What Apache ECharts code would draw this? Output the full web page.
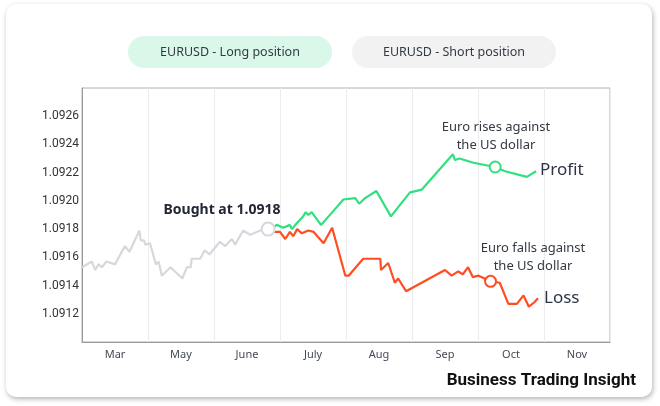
<!DOCTYPE html>
<html>
<head>
<meta charset="utf-8">
<script src="https://cdn.jsdelivr.net/npm/echarts@6/dist/echarts.min.js"></script>
<style>
  html, body { margin: 0; padding: 0; background: #ffffff; }
  #wrap { position: relative; width: 660px; height: 406px; overflow: hidden; }
  #card { position: absolute; left: 6px; top: 4px; width: 646px; height: 393px; background: #fff;
          border-radius: 10px; box-shadow: 1px 2px 5px rgba(0,0,0,0.3); }
  #chart { position: absolute; left: 0; top: 0; width: 660px; height: 406px; }
</style>
</head>
<body>
<div id="wrap">
  <div id="card"></div>
  <div id="chart"></div>
</div>
<script>
const months = ['Mar', 'May', 'June', 'July', 'Aug', 'Sep', 'Oct', 'Nov'];
const boughtAt = 1.0918;

const historyX = [0, 0.15, 0.2, 0.25, 0.3, 0.37, 0.5, 0.65, 0.72, 0.87, 0.89, 0.94, 0.96, 1.03, 1.12, 1.16, 1.21, 1.34, 1.52, 1.59, 1.65, 1.66, 1.79, 1.86, 1.93, 2.09, 2.17, 2.27, 2.32, 2.44, 2.55, 2.70, 2.82];
const historyY = [1.09153, 1.09157, 1.09151, 1.09155, 1.09153, 1.09157, 1.09155, 1.09168, 1.09164, 1.09179, 1.09172, 1.09172, 1.09169, 1.09170, 1.09155, 1.09157, 1.09147, 1.09153, 1.09145, 1.09153, 1.09153, 1.09159, 1.09159, 1.09165, 1.09162, 1.09171, 1.09168, 1.09173, 1.09169, 1.09179, 1.09176, 1.09179, 1.09180];

const longX = [2.82, 2.89, 2.95, 3.05, 3.15, 3.18, 3.25, 3.35, 3.39, 3.43, 3.48, 3.62, 3.68, 3.83, 3.96, 4.14, 4.20, 4.29, 4.46, 4.68, 4.97, 5.15, 5.62, 5.65, 5.72, 5.93, 6.26, 6.41, 6.74, 6.88];
const longY = [1.09180, 1.09181, 1.09183, 1.09181, 1.09183, 1.09180, 1.09184, 1.09189, 1.09192, 1.09190, 1.09192, 1.09183, 1.09186, 1.09194, 1.09201, 1.09202, 1.09198, 1.09202, 1.09207, 1.09189, 1.09206, 1.09208, 1.09233, 1.09229, 1.09230, 1.09227, 1.09224, 1.09221, 1.09217, 1.09221];
const longMarkerIndex = 26;

const shortX = [2.82, 2.89, 3.00, 3.08, 3.15, 3.20, 3.26, 3.33, 3.43, 3.51, 3.66, 3.79, 3.99, 4.04, 4.26, 4.52, 4.53, 4.64, 4.74, 4.79, 4.91, 5.50, 5.60, 5.70, 5.77, 5.85, 5.92, 6.01, 6.19, 6.33, 6.46, 6.59, 6.69, 6.77, 6.85, 6.91];
const shortY = [1.09180, 1.09178, 1.09178, 1.09173, 1.09178, 1.09175, 1.09180, 1.09177, 1.09179, 1.09178, 1.09170, 1.09181, 1.09147, 1.09147, 1.09159, 1.09159, 1.09151, 1.09156, 1.09142, 1.09145, 1.09136, 1.09151, 1.09147, 1.09150, 1.09148, 1.09153, 1.09146, 1.09147, 1.09143, 1.09142, 1.09127, 1.09127, 1.09133, 1.09125, 1.09128, 1.09131];
const shortMarkerIndex = 28;

const yMin = 1.0910, yMax = 1.0928, yStep = 0.0002;

const zip = (xs, ys) => xs.map((x, i) => [x, ys[i]]);
const GREY = '#d6d8dd', GREEN = '#2fe07e', RED = '#ff4d22';
const TXT = "'Noto Sans', sans-serif";

const chart = echarts.init(document.getElementById('chart'), null, { renderer: 'canvas' });

const markerSeries = (pt, color, size) => ({
  type: 'scatter', xAxisIndex: 1, z: 5, symbolSize: size, silent: true,
  data: [pt],
  itemStyle: { color: '#ffffff', opacity: 1, borderColor: color, borderWidth: 2 },
  emphasis: { disabled: true }
});

const option = {
  backgroundColor: 'transparent',
  animation: false,
  grid: { left: 82, right: 50, top: 88, bottom: 64, show: true, borderColor: '#b0b0b0', borderWidth: 1 },
  xAxis: [
    {
      type: 'category', data: months, boundaryGap: true,
      axisTick: { show: false },
      axisLine: { show: true, lineStyle: { color: '#9a9a9a' } },
      splitLine: { show: true, lineStyle: { color: '#ececec', width: 1 } },
      axisLabel: { color: '#444a55', fontSize: 11, fontFamily: TXT, margin: 7 }
    },
    { type: 'value', min: 0, max: 8, show: false }
  ],
  yAxis: {
    type: 'value', min: yMin, max: yMax, interval: yStep,
    axisLine: { show: true, lineStyle: { color: '#9a9a9a' } },
    axisTick: { show: false },
    splitLine: { show: false },
    axisLabel: {
      color: '#333', fontSize: 12, fontFamily: 'Roboto', margin: 3,
      showMinLabel: false, showMaxLabel: false,
      formatter: v => v.toFixed(4)
    }
  },
  series: [
    {
      type: 'line', xAxisIndex: 1, data: zip(historyX, historyY), symbol: 'none',
      lineStyle: { color: GREY, width: 2.2 }, z: 2,
      markLine: {
        silent: true, symbol: 'none', label: { show: false },
        lineStyle: { color: '#cfd1d6', type: [4, 4], width: 1 },
        data: [{ yAxis: boughtAt }]
      }
    },
    {
      type: 'line', xAxisIndex: 1, data: zip(longX, longY), symbol: 'none',
      lineStyle: { color: GREEN, width: 2.2 }, z: 3
    },
    {
      type: 'line', xAxisIndex: 1, data: zip(shortX, shortY), symbol: 'none',
      lineStyle: { color: RED, width: 2.2 }, z: 3
    },
    markerSeries([historyX[historyX.length - 1], historyY[historyY.length - 1]], GREY, 13),
    markerSeries([longX[longMarkerIndex], longY[longMarkerIndex]], GREEN, 11),
    markerSeries([shortX[shortMarkerIndex], shortY[shortMarkerIndex]], RED, 11)
  ],
  graphic: [
    { type: 'rect', shape: { x: 128, y: 36, width: 204, height: 32, r: 16 }, style: { fill: '#d9f8ea' } },
    { type: 'text', x: 230, y: 52, style: { text: 'EURUSD - Long position', fill: '#333a44', font: "12.5px 'Noto Sans'", textAlign: 'center', textVerticalAlign: 'middle' } },
    { type: 'rect', shape: { x: 352, y: 36, width: 204, height: 32, r: 16 }, style: { fill: '#f2f2f3' } },
    { type: 'text', x: 454, y: 52, style: { text: 'EURUSD - Short position', fill: '#333a44', font: "12.5px 'Noto Sans'", textAlign: 'center', textVerticalAlign: 'middle' } },

    { type: 'text', x: 222, y: 210, z: 10, style: { text: 'Bought at 1.0918', fill: '#232735', font: "bold 14px 'Noto Sans'", textAlign: 'center', textVerticalAlign: 'middle' } },
    { type: 'text', x: 496, y: 127, z: 10, style: { text: 'Euro rises against', fill: '#333a44', font: "13px 'Noto Sans'", textAlign: 'center', textVerticalAlign: 'middle' } },
    { type: 'text', x: 496, y: 145, z: 10, style: { text: 'the US dollar', fill: '#333a44', font: "13px 'Noto Sans'", textAlign: 'center', textVerticalAlign: 'middle' } },
    { type: 'text', x: 540, y: 170, z: 10, style: { text: 'Profit', fill: '#2d3344', font: "17px 'Noto Sans'", textAlign: 'left', textVerticalAlign: 'middle' } },
    { type: 'text', x: 533, y: 248, z: 10, style: { text: 'Euro falls against', fill: '#333a44', font: "13px 'Noto Sans'", textAlign: 'center', textVerticalAlign: 'middle' } },
    { type: 'text', x: 533, y: 266, z: 10, style: { text: 'the US dollar', fill: '#333a44', font: "13px 'Noto Sans'", textAlign: 'center', textVerticalAlign: 'middle' } },
    { type: 'text', x: 544, y: 298, z: 10, style: { text: 'Loss', fill: '#2d3344', font: "17px 'Noto Sans'", textAlign: 'left', textVerticalAlign: 'middle' } },

    { type: 'text', x: 636, y: 381, z: 10, style: { text: 'Business Trading Insight', fill: '#111', font: "bold 17px 'Roboto'", textAlign: 'right', textVerticalAlign: 'middle' } }
  ]
};

chart.setOption(option);
</script>
</body>
</html>
